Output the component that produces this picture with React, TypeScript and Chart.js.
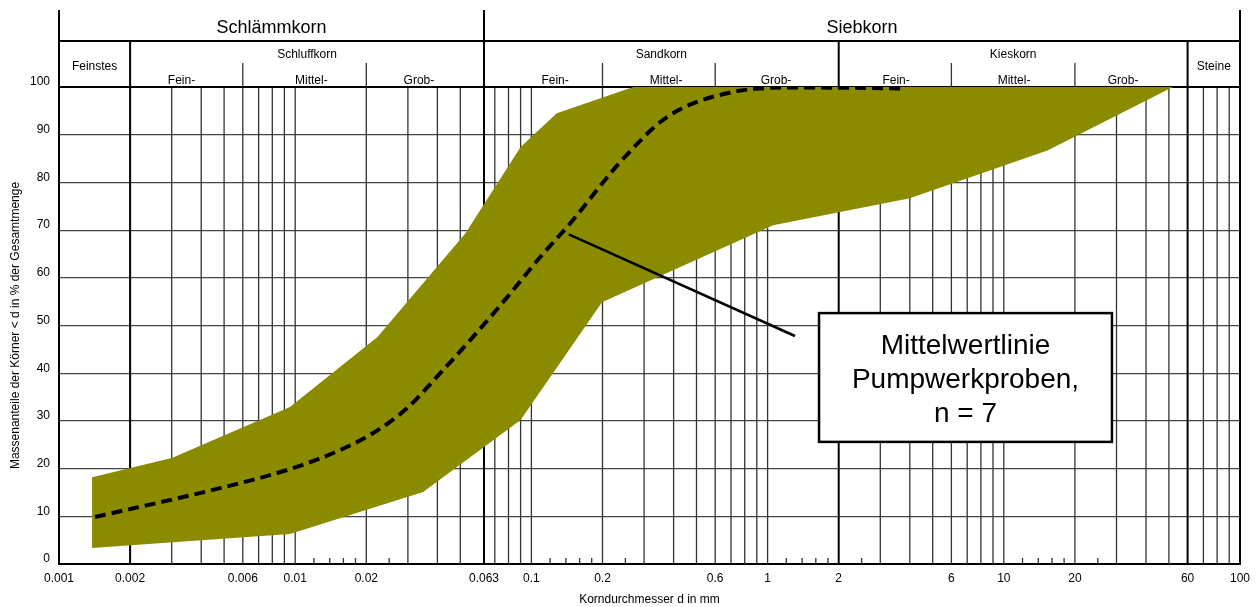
import React, { useEffect, useRef } from 'react';
import { Chart, registerables } from 'chart.js';

Chart.register(...registerables);

const FONT = "'Liberation Sans', Arial, Helvetica, sans-serif";

// ---- data ----
const upperD = [0.00138, 0.003, 0.0095, 0.0223, 0.0525, 0.09, 0.128, 0.27, 52];
const upperP = [18.2, 22.2, 32.9, 47.6, 69.3, 87.4, 94.5, 100, 100];

const lowerD = [0.00138, 0.0095, 0.0348, 0.09, 0.199, 1.055, 4.0, 15.3, 52];
const lowerP = [3.35, 6.3, 15.1, 30.2, 54.9, 71.0, 76.7, 86.7, 100];

const meanD = [0.00142, 0.0048, 0.0098, 0.0155, 0.0213, 0.0298, 0.0411, 0.0566, 0.0789, 0.1088, 0.15, 0.201, 0.237, 0.375, 0.673, 1.37, 3.82];
const meanP = [9.85, 15.9, 20.1, 23.9, 27.4, 32.7, 40.0, 47.6, 55.9, 64.3, 72.1, 80.0, 84.2, 93.7, 98.7, 99.9, 99.7];

// ---- axis / grid values ----
const xLabelValues = [0.001, 0.002, 0.006, 0.01, 0.02, 0.063, 0.1, 0.2, 0.6, 1, 2, 6, 10, 20, 60, 100];
const gridThin = [0.003, 0.004, 0.005, 0.006, 0.007, 0.008, 0.009, 0.01, 0.02, 0.03, 0.04, 0.05, 0.07, 0.08, 0.09, 0.1,
  0.2, 0.3, 0.4, 0.5, 0.6, 0.7, 0.8, 0.9, 1, 3, 4, 5, 6, 7, 8, 9, 10, 20, 30, 40, 50, 70, 80, 90];
const gridThickFull = [0.001, 0.063, 100];
const gridThickSub = [0.002, 2, 60];
const minorTicks = [0.012, 0.014, 0.016, 0.018, 0.025, 0.12, 0.14, 0.16, 0.18, 0.25, 1.2, 1.4, 1.6, 1.8, 2.5, 12, 14, 16, 18, 25];

// ---- header table ----
const topGroups = ['Schlämmkorn', 'Siebkorn'];
const topBounds = [[0.001, 0.063], [0.063, 100]];
const midGroups = ['Feinstes', 'Schluffkorn', 'Sandkorn', 'Kieskorn', 'Steine'];
const midBounds = [[0.001, 0.002], [0.002, 0.063], [0.063, 2], [2, 60], [60, 100]];
const subLabels = ['Fein-', 'Mittel-', 'Grob-', 'Fein-', 'Mittel-', 'Grob-', 'Fein-', 'Mittel-', 'Grob-'];
const subLabelAt = [0.0033, 0.0117, 0.0334, 0.126, 0.372, 1.085, 3.5, 11.05, 32];
const subDividers = [0.006, 0.02, 0.2, 0.6, 6, 20];

// ---- annotation ----
const noteLines = ['Mittelwertlinie', 'Pumpwerkproben,', 'n = 7'];
const noteFrom = [0.144, 69.1];
const noteTo = [1.306, 47.8];
const noteBox = [1.651, 52.6, 28.7, 25.6]; // x1, yTop, x2, yBottom

const headerPlugin = {
  id: 'header',
  beforeDatasetsDraw(chart: any) {
    const ctx = chart.ctx;
    const xs = chart.scales.x;
    const area = chart.chartArea;
    const px = (v: number) => xs.getPixelForValue(v);
    ctx.save();
    // thin full-height verticals
    ctx.strokeStyle = '#333';
    ctx.lineWidth = 1.3;
    gridThin.forEach((v) => {
      const x = px(v);
      ctx.beginPath();
      ctx.moveTo(x, area.top);
      ctx.lineTo(x, area.bottom);
      ctx.stroke();
    });
    // minor ticks
    minorTicks.forEach((v) => {
      const x = px(v);
      ctx.beginPath();
      ctx.moveTo(x, area.bottom);
      ctx.lineTo(x, area.bottom - 6);
      ctx.stroke();
    });
    // header sub dividers
    subDividers.forEach((v) => {
      const x = px(v);
      ctx.beginPath();
      ctx.moveTo(x, 63);
      ctx.lineTo(x, area.top);
      ctx.stroke();
    });
    // thick lines
    ctx.strokeStyle = '#000';
    ctx.lineWidth = 2;
    gridThickFull.forEach((v) => {
      const x = px(v);
      ctx.beginPath();
      ctx.moveTo(x, 10);
      ctx.lineTo(x, area.bottom);
      ctx.stroke();
    });
    gridThickSub.forEach((v) => {
      const x = px(v);
      ctx.beginPath();
      ctx.moveTo(x, 41);
      ctx.lineTo(x, area.bottom);
      ctx.stroke();
    });
    ctx.beginPath();
    ctx.moveTo(area.left, 41);
    ctx.lineTo(area.right, 41);
    ctx.moveTo(area.left, area.top);
    ctx.lineTo(area.right, area.top);
    ctx.stroke();

    // texts
    ctx.fillStyle = '#000';
    ctx.textAlign = 'center';
    ctx.textBaseline = 'alphabetic';
    ctx.font = `18px ${FONT}`;
    topGroups.forEach((t, i) => {
      ctx.fillText(t, (px(topBounds[i][0]) + px(topBounds[i][1])) / 2, 33);
    });
    ctx.font = `12px ${FONT}`;
    midGroups.forEach((t, i) => {
      const y = i === 0 || i === 4 ? 70 : 58;
      ctx.fillText(t, (px(midBounds[i][0]) + px(midBounds[i][1])) / 2, y);
    });
    subLabels.forEach((t, i) => {
      ctx.fillText(t, px(subLabelAt[i]), 84);
    });
    ctx.restore();
  },
  afterDatasetsDraw(chart: any) {
    const ctx = chart.ctx;
    const xs = chart.scales.x;
    const ys = chart.scales.y;
    ctx.save();
    ctx.strokeStyle = '#000';
    ctx.lineWidth = 2.5;
    ctx.beginPath();
    ctx.moveTo(xs.getPixelForValue(noteFrom[0]), ys.getPixelForValue(noteFrom[1]));
    ctx.lineTo(xs.getPixelForValue(noteTo[0]), ys.getPixelForValue(noteTo[1]));
    ctx.stroke();
    const x1 = xs.getPixelForValue(noteBox[0]);
    const y1 = ys.getPixelForValue(noteBox[1]);
    const x2 = xs.getPixelForValue(noteBox[2]);
    const y2 = ys.getPixelForValue(noteBox[3]);
    ctx.fillStyle = '#fff';
    ctx.fillRect(x1, y1, x2 - x1, y2 - y1);
    ctx.lineWidth = 2.5;
    ctx.strokeRect(x1, y1, x2 - x1, y2 - y1);
    ctx.fillStyle = '#000';
    ctx.font = `28px ${FONT}`;
    ctx.textAlign = 'center';
    ctx.textBaseline = 'alphabetic';
    const cx = (x1 + x2) / 2;
    noteLines.forEach((t, i) => {
      ctx.fillText(t, cx, y1 + 41 + i * 34);
    });
    ctx.restore();
  },
};

export default function App() {
  const ref = useRef<HTMLCanvasElement>(null);
  useEffect(() => {
    const canvas = ref.current;
    if (!canvas) return;
    const bandData = [
      ...upperD.map((d, i) => ({ x: d, y: upperP[i] })),
      ...lowerD.map((d, i) => ({ x: d, y: lowerP[i] })).reverse(),
    ];
    const chart = new Chart(canvas, {
      type: 'line',
      data: {
        datasets: [
          {
            label: 'Mittelwertlinie',
            data: meanD.map((d, i) => ({ x: d, y: meanP[i] })),
            borderColor: '#000',
            borderWidth: 4,
            borderDash: [11, 6],
            borderCapStyle: 'butt',
            pointRadius: 0,
            fill: false,
            cubicInterpolationMode: 'monotone',
          },
          {
            label: 'Bereich',
            data: bandData,
            borderWidth: 0,
            borderColor: 'rgba(0,0,0,0)',
            backgroundColor: '#8b8b00',
            pointRadius: 0,
            fill: 'shape',
            tension: 0,
          },
        ],
      } as any,
      options: {
        responsive: false,
        maintainAspectRatio: false,
        animation: false,
        devicePixelRatio: 1,
        layout: { padding: { top: 87, right: 20, left: 0, bottom: 0 } },
        plugins: { legend: { display: false }, tooltip: { enabled: false } },
        scales: {
          x: {
            type: 'logarithmic',
            min: 0.001,
            max: 100,
            grid: { display: false, drawTicks: false },
            border: { display: true, color: '#000', width: 2 },
            afterBuildTicks: (s: any) => {
              s.ticks = xLabelValues.map((v) => ({ value: v }));
            },
            ticks: {
              autoSkip: false,
              maxRotation: 0,
              minRotation: 0,
              padding: 7,
              color: '#000',
              font: { size: 12, family: FONT },
              callback: (v: any) => String(v),
            },
            title: {
              display: true,
              text: 'Korndurchmesser d in mm',
              color: '#000',
              font: { size: 12, family: FONT },
              padding: { top: 0, bottom: 0 },
            },
            afterFit: (s: any) => {
              s.height = 43;
            },
          },
          y: {
            type: 'linear',
            min: 0,
            max: 100,
            grid: { color: '#444', lineWidth: 1.2, drawTicks: false },
            border: { display: true, color: '#000', width: 2 },
            ticks: {
              stepSize: 10,
              padding: 9,
              labelOffset: -5,
              color: '#000',
              font: { size: 12, family: FONT },
            },
            title: {
              display: true,
              text: 'Massenanteile der Körner < d in % der Gesamtmenge',
              color: '#000',
              font: { size: 12, family: FONT },
              padding: { top: 8, bottom: 0 },
            },
            afterFit: (s: any) => {
              s.width = 59;
            },
          },
        },
      } as any,
      plugins: [headerPlugin],
    });
    return () => chart.destroy();
  }, []);
  return (
    <div style={{ position: 'fixed', left: 0, top: 0, width: 1260, height: 607, background: '#fff' }}>
      <canvas ref={ref} width={1260} height={607} style={{ display: 'block' }} />
    </div>
  );
}
